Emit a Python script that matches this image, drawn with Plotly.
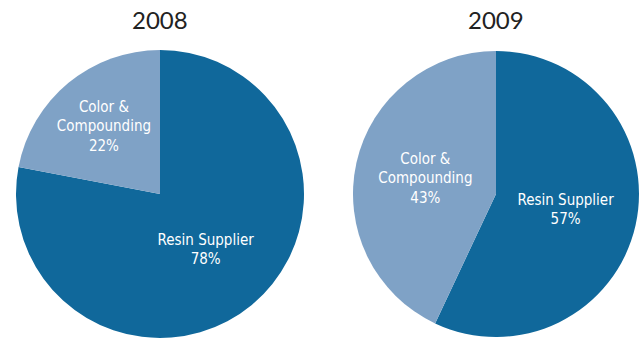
import plotly.graph_objects as go

categories = ["Resin Supplier", "Color &<br>Compounding"]
values_2008 = [78, 22]
values_2009 = [57, 43]
years = ["2008", "2009"]
colors = ["#10689B", "#7FA2C6"]

W, H = 644, 339

fig = go.Figure()
doms = [
    dict(x=[16 / W, 304 / W], y=[(H - 338) / H, (H - 50) / H]),
    dict(x=[353 / W, 639 / W], y=[(H - 337) / H, (H - 51) / H]),
]
for vals, dom in zip([values_2008, values_2009], doms):
    fig.add_trace(go.Pie(
        labels=categories, values=vals, sort=False, direction="clockwise",
        rotation=0, domain=dom, marker=dict(colors=colors, line=dict(width=0)),
        texttemplate="%{label}<br>%{value}%", textposition="inside",
        insidetextorientation="horizontal",
        textfont=dict(color="white", size=15, family="DejaVu Sans Condensed"),
        showlegend=False, hoverinfo="label+value",
    ))

for yr, x in zip(years, [160, 496]):
    fig.add_annotation(text=yr, x=x / W, y=1 - 20 / H, xref="paper", yref="paper",
                       showarrow=False, font=dict(size=24, color="#222222", family="Lato"),
                       xanchor="center", yanchor="middle")

fig.update_layout(width=W, height=H, margin=dict(l=0, r=0, t=0, b=0),
                  paper_bgcolor="white", plot_bgcolor="white")
fig.write_html("out.html")
